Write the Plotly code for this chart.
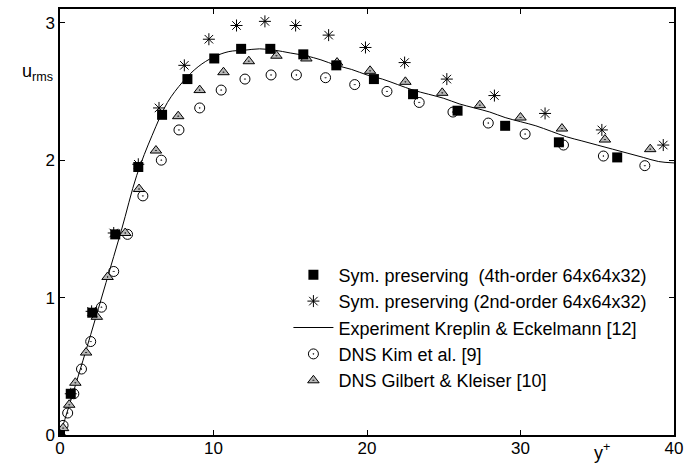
import plotly.graph_objects as go

# 4th-order symmetry preserving
sq_x = [0.0, 0.7, 2.1, 3.6, 5.1, 6.65, 8.3, 10.05, 11.8, 13.7, 15.85, 18.0, 20.45, 23.0, 25.9, 29.0, 32.5, 36.3]
sq_y = [0.0, 0.30, 0.89, 1.46, 1.95, 2.33, 2.59, 2.74, 2.81, 2.81, 2.77, 2.69, 2.59, 2.48, 2.36, 2.25, 2.13, 2.02]

# 2nd-order symmetry preserving
st_x = [0.0, 0.7, 2.06, 3.5, 5.1, 6.45, 8.1, 9.7, 11.5, 13.35, 15.35, 17.5, 19.9, 22.45, 25.2, 28.3, 31.6, 35.3, 39.3]
st_y = [0.0, 0.30, 0.90, 1.47, 1.97, 2.38, 2.69, 2.88, 2.98, 3.01, 2.98, 2.91, 2.82, 2.71, 2.59, 2.47, 2.34, 2.22, 2.11]

# Experiment Kreplin & Eckelmann
ex_x = [0, 1, 2, 3, 4, 5, 6, 7, 8, 9, 10, 11, 12, 13, 14, 15, 16, 17, 18, 19, 20,
        21, 22, 23, 24, 25, 26, 27, 28, 29, 30, 31, 32, 33, 34, 35, 36, 37, 38, 39, 40]
ex_y = [0.0, 0.36, 0.73, 1.11, 1.49, 1.89, 2.18, 2.42, 2.57, 2.68, 2.75, 2.79, 2.80, 2.81, 2.80,
        2.78, 2.76, 2.73, 2.69, 2.66, 2.62, 2.59, 2.55, 2.51, 2.48, 2.45, 2.41, 2.38, 2.35, 2.31,
        2.28, 2.25, 2.21, 2.17, 2.14, 2.11, 2.08, 2.05, 2.02, 1.99, 1.98]

# DNS Kim et al.
ki_x = [0.2, 0.5, 0.9, 1.4, 2.0, 2.7, 3.5, 4.4, 5.4, 6.6, 7.75, 9.1, 10.5, 12.05, 13.75, 15.4,
        17.3, 19.2, 21.3, 23.4, 25.6, 27.9, 30.3, 32.8, 35.4, 38.1]
ki_y = [0.07, 0.16, 0.30, 0.48, 0.68, 0.93, 1.19, 1.46, 1.74, 2.00, 2.22, 2.38, 2.51, 2.59, 2.62,
        2.62, 2.60, 2.55, 2.50, 2.42, 2.35, 2.27, 2.19, 2.11, 2.03, 1.96]

# DNS Gilbert & Kleiser
gk_x = [0.2, 0.6, 1.0, 1.7, 2.4, 3.1, 4.25, 5.15, 6.25, 7.7, 9.1, 10.65, 12.3, 14.1, 16.05, 18.05,
        20.2, 22.5, 24.9, 27.35, 30.0, 32.7, 35.5, 38.45]
gk_y = [0.05, 0.22, 0.38, 0.60, 0.86, 1.15, 1.47, 1.79, 2.07, 2.32, 2.51, 2.64, 2.72, 2.76, 2.74,
        2.71, 2.65, 2.57, 2.49, 2.40, 2.31, 2.23, 2.15, 2.08]

x_ticks = [0, 10, 20, 30, 40]
y_ticks = [0, 1, 2, 3]

names = ["Sym. preserving\u00a0\u00a0(4th-order 64x64x32)",
         "Sym. preserving (2nd-order 64x64x32)",
         "Experiment Kreplin & Eckelmann [12]",
         "DNS Kim et al. [9]",
         "DNS Gilbert & Kleiser [10]"]

FONT = "Liberation Sans, Arial, sans-serif"

fig = go.Figure()
fig.add_trace(go.Scatter(x=ex_x, y=ex_y, mode="lines", name=names[2], legendrank=3, legendgroup="c",
                         line=dict(color="black", width=1, shape="spline")))
fig.add_trace(go.Scatter(x=ki_x, y=ki_y, mode="markers", name=names[3], legendrank=4, legendgroup="d",
                         marker=dict(symbol="circle-open-dot", size=10, color="black", line=dict(width=1))))
fig.add_trace(go.Scatter(x=gk_x, y=gk_y, mode="markers", name=names[4], legendrank=5, legendgroup="e",
                         marker=dict(symbol="triangle-up-dot", size=10, color="#b8b8b8",
                                     line=dict(width=1, color="black"))))
fig.add_trace(go.Scatter(x=st_x, y=st_y, mode="markers", name=names[1], legendrank=2, legendgroup="b",
                         marker=dict(symbol="asterisk-open", size=10, color="black",
                                     line=dict(width=1, color="black"))))
fig.add_trace(go.Scatter(x=sq_x, y=sq_y, mode="markers", name=names[0], legendrank=1, legendgroup="a",
                         marker=dict(symbol="square", size=10, color="black")))

axis_common = dict(showline=True, linecolor="black", linewidth=1.5, mirror="ticks",
                   ticks="inside", ticklen=5, tickwidth=1, tickcolor="black",
                   showgrid=False, zeroline=False,
                   tickfont=dict(family=FONT, size=17, color="black"))

fig.update_xaxes(range=[0, 40], tickvals=x_ticks, ticktext=[str(v) for v in x_ticks],
                 ticklabelstandoff=-3, ticklabeloverflow="allow", **axis_common)
fig.update_yaxes(range=[0, 3.1], tickvals=y_ticks, ticktext=[str(v) for v in y_ticks], **axis_common)

# plot area at x 60..680, y 7..435 in the 690x465 window (page margin removed below)
fig.update_layout(
    width=690, height=465,
    margin=dict(l=60, r=10, t=7, b=30, pad=0),
    plot_bgcolor="white", paper_bgcolor="white",
    font=dict(family=FONT, size=16, color="black"),
    legend=dict(x=0.372, y=0.419, xanchor="left", yanchor="top", bgcolor="rgba(0,0,0,0)",
                font=dict(family=FONT, size=18), tracegroupgap=0, itemwidth=40),
)
fig.add_annotation(text="u<sub>rms</sub>", xref="paper", yref="paper", x=-0.037, y=0.85,
                   xanchor="center", yanchor="middle", showarrow=False,
                   font=dict(family=FONT, size=18))
fig.add_annotation(text="y<sup>+</sup>", xref="paper", yref="paper", x=0.882, y=-0.038,
                   xanchor="center", yanchor="middle", showarrow=False,
                   font=dict(family=FONT, size=18))

fig.write_html("out.html", config={"displayModeBar": False},
               post_script="document.body.style.margin='0px';document.body.style.overflow='hidden';")
